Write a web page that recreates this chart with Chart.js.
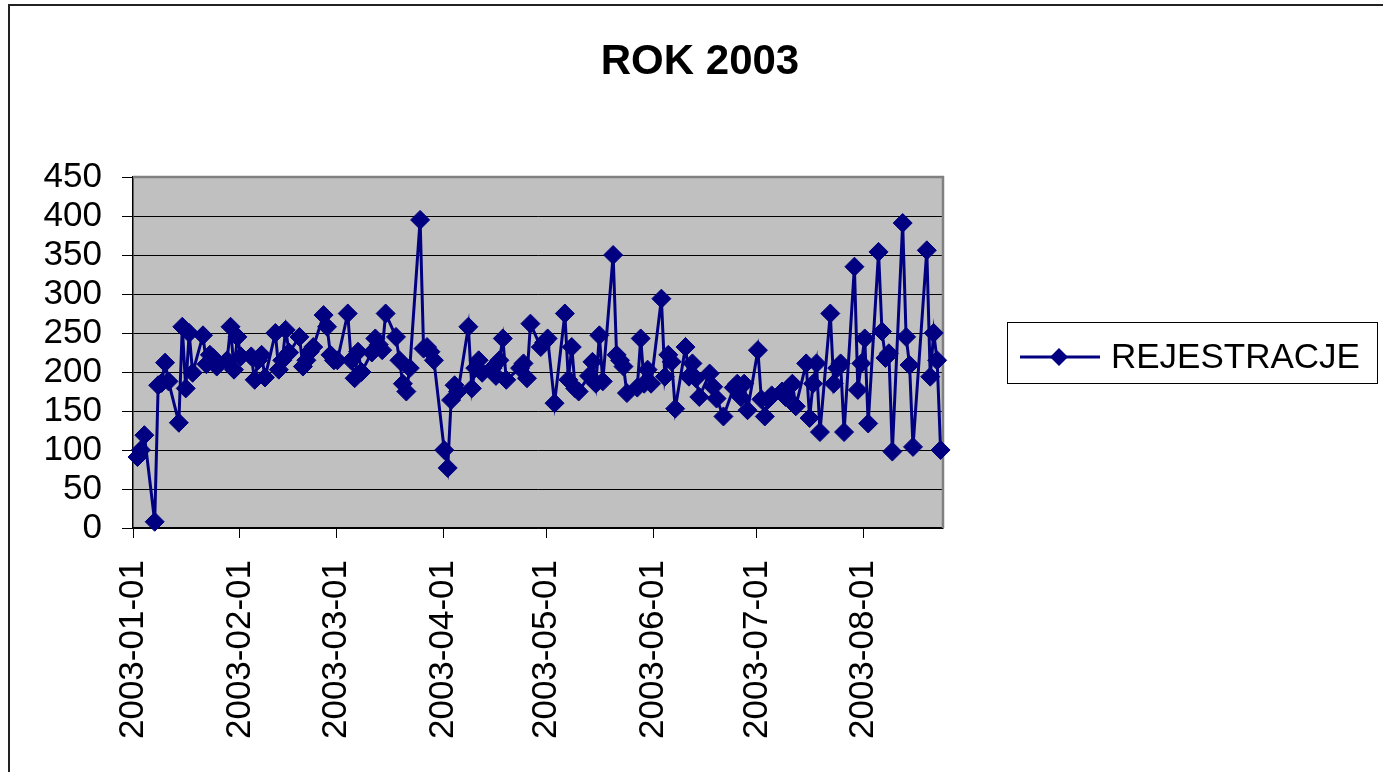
<!DOCTYPE html>
<html>
<head>
<meta charset="utf-8">
<script src="https://cdn.jsdelivr.net/npm/chart.js@4.4.1/dist/chart.umd.min.js"></script>
<style>
html,body{margin:0;padding:0;background:#fff;}
#wrap{width:1383px;height:772px;position:relative;overflow:hidden;}
canvas{display:block;}
</style>
</head>
<body>
<div id="wrap"><canvas id="c" width="1383" height="772"></canvas></div>
<script>
// ---------------- DATA ----------------
const titleText = "ROK 2003";
const seriesLabel = "REJESTRACJE";

const dates = [
 "2003-01-01","2003-01-02","2003-01-03","2003-01-06","2003-01-07","2003-01-08","2003-01-09","2003-01-10",
 "2003-01-13","2003-01-14","2003-01-15","2003-01-16","2003-01-17","2003-01-20","2003-01-21","2003-01-22",
 "2003-01-23","2003-01-24","2003-01-27","2003-01-28","2003-01-29","2003-01-30","2003-01-31",
 "2003-02-03","2003-02-04","2003-02-05","2003-02-06","2003-02-07","2003-02-10","2003-02-11","2003-02-12",
 "2003-02-13","2003-02-14","2003-02-17","2003-02-18","2003-02-19","2003-02-20","2003-02-21","2003-02-24",
 "2003-02-25","2003-02-26","2003-02-27","2003-02-28",
 "2003-03-03","2003-03-04","2003-03-05","2003-03-06","2003-03-07","2003-03-10","2003-03-11","2003-03-12",
 "2003-03-13","2003-03-14","2003-03-17","2003-03-18","2003-03-19","2003-03-20","2003-03-21","2003-03-24",
 "2003-03-25","2003-03-26","2003-03-27","2003-03-28","2003-03-31",
 "2003-04-01","2003-04-02","2003-04-03","2003-04-04","2003-04-07","2003-04-08","2003-04-09","2003-04-10",
 "2003-04-11","2003-04-14","2003-04-15","2003-04-16","2003-04-17","2003-04-18","2003-04-22","2003-04-23",
 "2003-04-24","2003-04-25","2003-04-28","2003-04-29","2003-04-30",
 "2003-05-02","2003-05-05","2003-05-06","2003-05-07","2003-05-08","2003-05-09","2003-05-12","2003-05-13",
 "2003-05-14","2003-05-15","2003-05-16","2003-05-19","2003-05-20","2003-05-21","2003-05-22","2003-05-23",
 "2003-05-26","2003-05-27","2003-05-28","2003-05-29","2003-05-30",
 "2003-06-02","2003-06-03","2003-06-04","2003-06-05","2003-06-06","2003-06-09","2003-06-10","2003-06-11",
 "2003-06-12","2003-06-13","2003-06-16","2003-06-17","2003-06-18","2003-06-20","2003-06-23","2003-06-24",
 "2003-06-25","2003-06-26","2003-06-27","2003-06-30",
 "2003-07-01","2003-07-02","2003-07-03","2003-07-04","2003-07-07","2003-07-08","2003-07-09","2003-07-10",
 "2003-07-11","2003-07-14","2003-07-15","2003-07-16","2003-07-17","2003-07-18","2003-07-21","2003-07-22",
 "2003-07-23","2003-07-24","2003-07-25","2003-07-28","2003-07-29","2003-07-30","2003-07-31",
 "2003-08-01","2003-08-04","2003-08-05","2003-08-06","2003-08-07","2003-08-08","2003-08-11","2003-08-12",
 "2003-08-13","2003-08-14","2003-08-18","2003-08-19","2003-08-20","2003-08-21","2003-08-22"
];

const values = [
 91,100,119,8,183,186,212,188,
 135,258,179,250,199,247,210,222,
 218,207,215,258,203,245,220,
 220,190,215,222,193,250,203,215,
 254,225,245,207,215,226,232,273,
 258,222,215,215,
 275,215,192,226,200,225,243,235,
 228,275,245,215,185,175,205,395,
 230,232,226,215,100,
 77,164,183,175,258,179,205,215,
 199,205,195,215,243,190,205,211,
 192,262,232,238,243,
 160,275,190,232,179,175,195,213,
 185,247,188,350,222,215,207,173,
 180,243,185,203,185,
 294,194,222,213,153,232,194,211,
 192,168,198,181,166,143,180,185,
 168,185,151,228,
 165,143,165,170,175,168,180,185,
 156,211,141,185,211,123,275,185,
 205,211,123,335,177,211,243,
 134,354,252,218,224,98,391,245,
 209,104,356,194,250,215,100
];

const tickLabels = ["2003-01-01","2003-02-01","2003-03-01","2003-04-01","2003-05-01","2003-06-01","2003-07-01","2003-08-01"];
const yTicks = [0,50,100,150,200,250,300,350,400,450];

// ---------------- HELPERS ----------------
function dayIndex(s){
  const p = s.split('-').map(Number);
  return Math.round((Date.UTC(p[0],p[1]-1,p[2]) - Date.UTC(2003,0,1)) / 86400000);
}
const SLOT = 1.3;          // each date drawn near the end of its day slot (spreadsheet date axis look)
const X_MAX = 235;
const tickPos = tickLabels.map(dayIndex);
const points = dates.map((d,i) => ({x: dayIndex(d) + SLOT, y: values[i]}));

const FONT = "'Liberation Sans', Arial, Helvetica, sans-serif";
const NAVY = '#000080';
Chart.defaults.font.family = FONT;
Chart.defaults.color = '#000';

const decor = {
  id: 'decor',
  beforeDraw(chart){
    const ctx = chart.ctx, a = chart.chartArea;
    ctx.save();
    ctx.fillStyle = '#fff';
    ctx.fillRect(0,0,chart.width,chart.height);
    // outer frame
    ctx.strokeStyle = '#222';
    ctx.lineWidth = 2;
    ctx.beginPath();
    ctx.moveTo(9, chart.height);
    ctx.lineTo(9, 5);
    ctx.lineTo(chart.width, 5);
    ctx.stroke();
    // plot background
    ctx.fillStyle = '#C0C0C0';
    ctx.fillRect(a.left, a.top, a.right - a.left, a.bottom - a.top);
    ctx.restore();
  },
  beforeDatasetsDraw(chart){
    const ctx = chart.ctx, a = chart.chartArea;
    ctx.save();
    ctx.strokeStyle = '#808080';
    ctx.lineWidth = 2.5;
    ctx.beginPath();
    ctx.moveTo(a.left, a.top);
    ctx.lineTo(a.right, a.top);
    ctx.lineTo(a.right, a.bottom);
    ctx.stroke();
    ctx.restore();
  },
  afterDraw(chart){
    const ctx = chart.ctx;
    ctx.save();
    // title
    ctx.fillStyle = '#000';
    ctx.font = 'bold 42px ' + FONT;
    ctx.textAlign = 'center';
    ctx.textBaseline = 'alphabetic';
    ctx.fillText(titleText, 700, 74);
    // legend
    ctx.strokeStyle = '#000';
    ctx.lineWidth = 1;
    ctx.strokeRect(1007.5, 322.5, 370, 61);
    const ds = chart.data.datasets[0];
    ctx.strokeStyle = ds.borderColor;
    ctx.lineWidth = 3;
    ctx.beginPath();
    ctx.moveTo(1020, 357);
    ctx.lineTo(1100, 357);
    ctx.stroke();
    ctx.fillStyle = ds.pointBackgroundColor;
    ctx.beginPath();
    ctx.moveTo(1050, 357); ctx.lineTo(1059, 348); ctx.lineTo(1068, 357); ctx.lineTo(1059, 366);
    ctx.closePath();
    ctx.fill();
    ctx.fillStyle = '#000';
    ctx.font = '35px ' + FONT;
    ctx.textAlign = 'left';
    ctx.fillText(ds.label, 1111, 368);
    ctx.restore();
  }
};

new Chart(document.getElementById('c'), {
  type: 'line',
  data: {
    datasets: [{
      label: seriesLabel,
      data: points,
      borderColor: NAVY,
      backgroundColor: NAVY,
      borderWidth: 3,
      tension: 0,
      pointStyle: 'rectRot',
      pointRadius: 9.5,
      pointBorderWidth: 1,
      pointBackgroundColor: NAVY,
      pointBorderColor: NAVY,
      clip: false
    }]
  },
  options: {
    responsive: false,
    animation: false,
    events: [],
    layout: { padding: { top: 177, left: 8, right: 440, bottom: 0 } },
    plugins: {
      legend: { display: false },
      title: { display: false },
      tooltip: { enabled: false }
    },
    scales: {
      x: {
        type: 'linear',
        min: 0,
        max: X_MAX,
        afterBuildTicks: s => { s.ticks = tickPos.map(v => ({ value: v })); },
        afterFit: s => { s.height = 244; },
        ticks: {
          autoSkip: false,
          minRotation: 90,
          maxRotation: 90,
          padding: 22,
          color: '#000',
          font: { size: 35, family: FONT },
          callback: v => tickLabels[tickPos.indexOf(v)]
        },
        grid: { drawOnChartArea: false, drawTicks: true, tickLength: 10, color: '#000', lineWidth: 1 },
        border: { display: true, color: '#000', width: 1.5 }
      },
      y: {
        min: 0,
        max: 450,
        afterBuildTicks: s => { s.ticks = yTicks.map(v => ({ value: v })); },
        afterFit: s => { s.width = 125; },
        ticks: {
          autoSkip: false,
          padding: 20,
          color: '#000',
          font: { size: 35, family: FONT, lineHeight: 1 }
        },
        grid: { color: '#000', lineWidth: 1, tickLength: 11, drawTicks: true },
        border: { display: true, color: '#000', width: 1.5 }
      }
    }
  },
  plugins: [decor]
});
</script>
</body>
</html>
